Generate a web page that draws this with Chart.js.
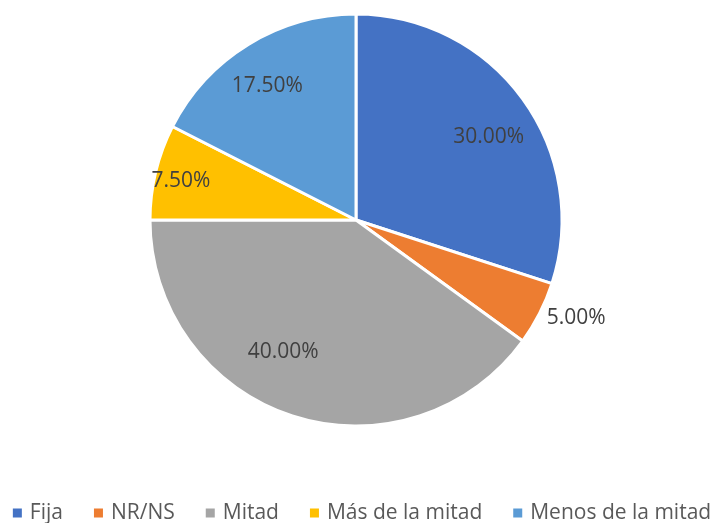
<!DOCTYPE html>
<html>
<head>
<meta charset="utf-8">
<script src="https://cdn.jsdelivr.net/npm/chart.js@4/dist/chart.umd.min.js"></script>
<style>
    html, body { margin: 0; padding: 0; background: #fff; }
    #wrap { width: 716px; height: 523px; }
</style>
</head>
<body>
<div id="wrap"><canvas id="pieChart" width="716" height="523"></canvas></div>
<script>
        // Chart data
        const categories = ['Fija', 'NR/NS', 'Mitad', 'Más de la mitad', 'Menos de la mitad'];
        const shares = [30.0, 5.0, 40.0, 7.5, 17.5];
        const sliceColors = ['#4472C4', '#ED7D31', '#A5A5A5', '#FFC000', '#5B9BD5'];

        // where each percentage label sits (fraction of radius, angle nudge in degrees)
        const labelRadius = [0.76, 1.17, 0.73, 0.87, 0.78];
        const labelNudge = [4, -3, 11, -1, -2];

        // Percent labels drawn on top of the slices
        const pctLabels = {
            id: 'pctLabels',
            afterDatasetsDraw(chart) {
                const ctx = chart.ctx;
                const meta = chart.getDatasetMeta(0);
                ctx.save();
                ctx.font = '21px "Open Sans"';
                ctx.fillStyle = '#404040';
                ctx.textAlign = 'center';
                ctx.textBaseline = 'middle';
                meta.data.forEach((arc, i) => {
                    const p = arc.getProps(['x', 'y', 'startAngle', 'endAngle', 'outerRadius'], true);
                    const mid = (p.startAngle + p.endAngle) / 2 + labelNudge[i] * Math.PI / 180;
                    const r = p.outerRadius * labelRadius[i];
                    const text = shares[i].toFixed(2) + '%';
                    ctx.fillText(text, p.x + Math.cos(mid) * r, p.y + Math.sin(mid) * r);
                });
                ctx.restore();
            }
        };

        // Single-row legend under the pie (built-in legend wraps at this spacing)
        const rowLegend = {
            id: 'rowLegend',
            afterDraw(chart) {
                const ctx = chart.ctx;
                const box = 9, textGap = 17, itemGap = 31, y = 513;
                ctx.save();
                ctx.font = '21px "Open Sans"';
                ctx.textBaseline = 'middle';
                ctx.textAlign = 'left';
                const widths = categories.map(c => ctx.measureText(c).width);
                let total = 0;
                widths.forEach((w, i) => { total += textGap + w + (i < widths.length - 1 ? itemGap : 0); });
                let x = 362 - total / 2;
                categories.forEach((c, i) => {
                    ctx.fillStyle = sliceColors[i];
                    ctx.fillRect(x, y - box / 2, box, box);
                    ctx.fillStyle = '#595959';
                    ctx.fillText(c, x + textGap, y);
                    x += textGap + widths[i] + itemGap;
                });
                ctx.restore();
            }
        };

        window.addEventListener('load', function() {
            const ctx = document.getElementById('pieChart');
            new Chart(ctx, {
                type: 'pie',
                data: {
                    labels: categories,
                    datasets: [{
                        data: shares,
                        backgroundColor: sliceColors,
                        borderColor: '#ffffff',
                        borderWidth: 3,
                        radius: 206
                    }]
                },
                options: {
                    responsive: false,
                    animation: false,
                    layout: {
                        padding: { top: 15, right: 4, left: 0, bottom: 98 }
                    },
                    plugins: {
                        tooltip: { enabled: false },
                        legend: { display: false }
                    }
                },
                plugins: [pctLabels, rowLegend]
            });
        });
</script>
</body>
</html>
